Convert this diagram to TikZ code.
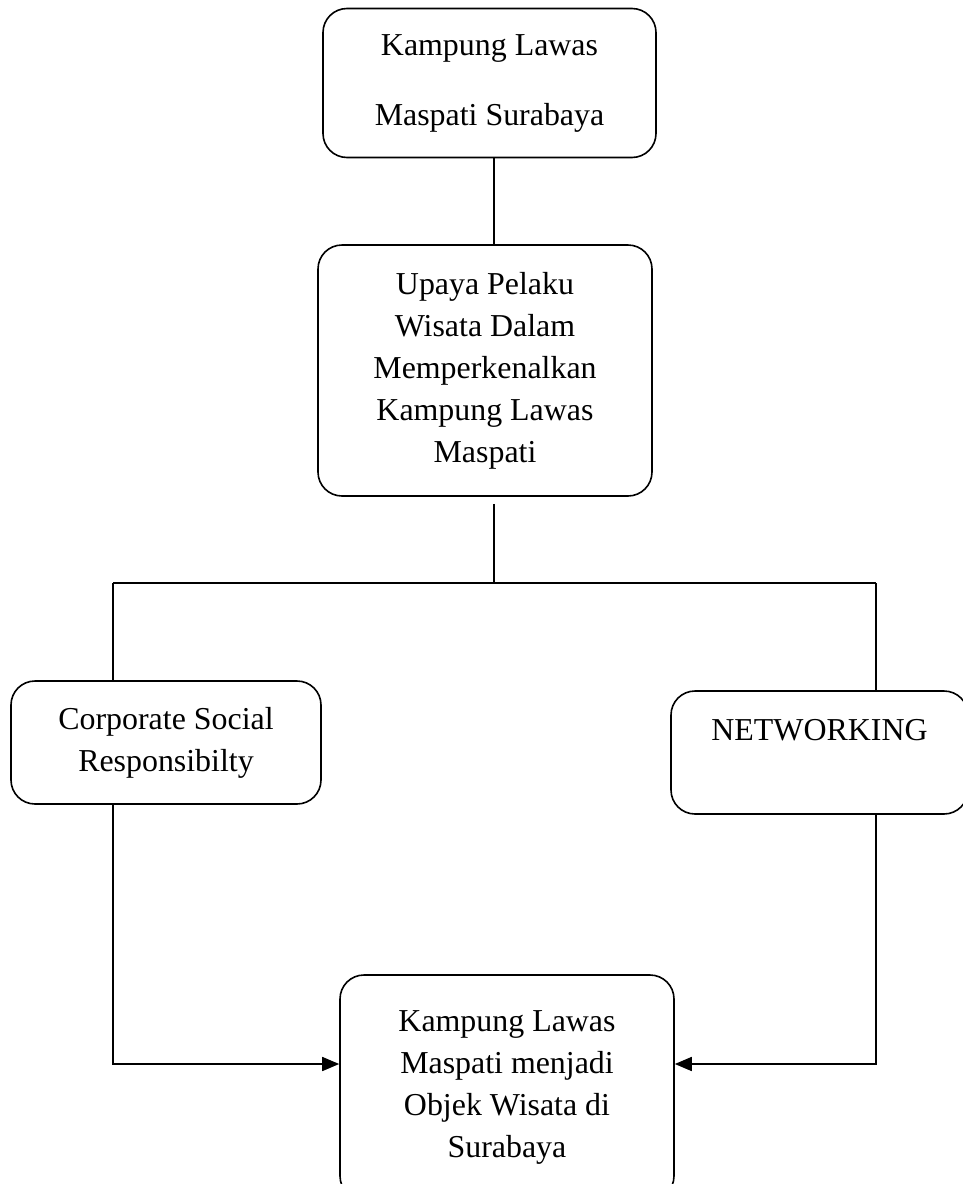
\documentclass[tikz,border=0pt]{standalone}
\usepackage{fontspec}
\setmainfont{Liberation Serif}
\usetikzlibrary{arrows.meta}
\begin{document}
\begin{tikzpicture}[x=1pt,y=-1pt,
  box/.style={draw, line width=1.6pt, rounded corners=24pt, inner sep=0pt, align=center,
    font=\fontsize{31.9}{42}\selectfont},
  conn/.style={line width=1.6pt},
  arr/.style={line width=1.6pt, -{Triangle[length=17pt,width=14pt]}}]
\useasboundingbox (0,0) rectangle (963,1184);
\fill[white] (0,0) rectangle (963,1184);

\node[box, minimum width=333pt, minimum height=149pt, font=\fontsize{31.9}{70}\selectfont] (b1) at (489.5,83) {Kampung Lawas\\Maspati Surabaya};
\node[box, minimum width=334pt, minimum height=251pt] (b2) at (485,370.5) {Upaya Pelaku\\Wisata Dalam\\Memperkenalkan\\Kampung Lawas\\Maspati};
\node[box, minimum width=310pt, minimum height=123pt] (b3) at (166,742.5) {Corporate Social\\Responsibilty};
\node[box, minimum width=297pt, minimum height=123pt] (b4) at (819.5,752.5) {NETWORKING\\[-0.3em]\strut};
\node[box, minimum width=334pt, minimum height=225pt] (b5) at (507,1087.5) {Kampung Lawas\\Maspati menjadi\\Objek Wisata di\\Surabaya};

\coordinate (hub) at (494,583);
\coordinate (L) at (113,583);
\coordinate (R) at (876,583);
\coordinate (aL) at (113,1064);
\coordinate (aR) at (876,1064);

\draw[conn] (b1.south -| hub) -- (b2.north -| hub);
\draw[conn] ([yshift=-7pt]b2.south -| hub) -- (hub);
\draw[conn] (L) -- (R);
\draw[conn] (L) -- (L |- b3.north);
\draw[conn] (R) -- (R |- b4.north);
\draw[arr] (L |- b3.south) -- (aL) -- (aL -| b5.west);
\draw[arr] (R |- b4.south) -- (aR) -- (aR -| b5.east);
\end{tikzpicture}
\end{document}
